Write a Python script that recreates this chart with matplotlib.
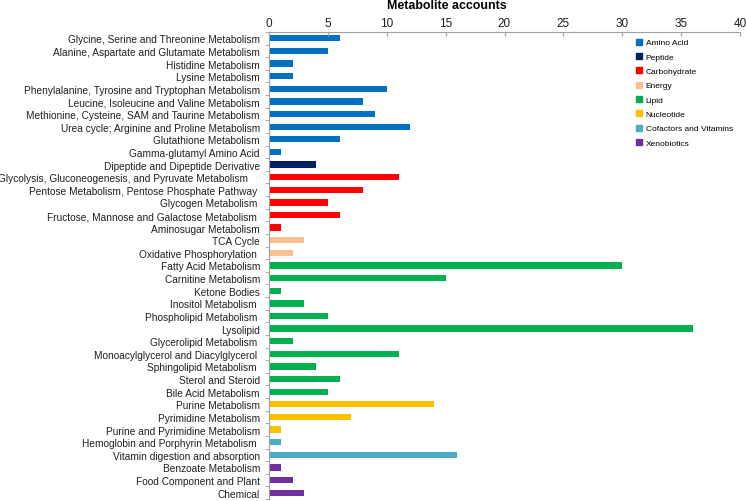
import matplotlib
matplotlib.use("Agg")
import matplotlib.pyplot as plt
from matplotlib.lines import Line2D
import numpy as np

plt.rcParams['font.family'] = ['Liberation Sans', 'DejaVu Sans']

categories = [
    "Glycine, Serine and Threonine Metabolism",
    "Alanine, Aspartate and Glutamate Metabolism",
    "Histidine Metabolism",
    "Lysine Metabolism",
    "Phenylalanine, Tyrosine and Tryptophan Metabolism",
    "Leucine, Isoleucine and Valine Metabolism",
    "Methionine, Cysteine, SAM and Taurine Metabolism",
    "Urea cycle; Arginine and Proline Metabolism",
    "Glutathione Metabolism",
    "Gamma-glutamyl Amino Acid",
    "Dipeptide and Dipeptide Derivative",
    "Glycolysis, Gluconeogenesis, and Pyruvate Metabolism    ",
    "Pentose Metabolism, Pentose Phosphate Pathway ",
    "Glycogen Metabolism ",
    "Fructose, Mannose and Galactose Metabolism ",
    "Aminosugar Metabolism",
    "TCA Cycle",
    "Oxidative Phosphorylation ",
    "Fatty Acid Metabolism",
    "Carnitine Metabolism",
    "Ketone Bodies",
    "Inositol Metabolism ",
    "Phospholipid Metabolism ",
    "Lysolipid",
    "Glycerolipid Metabolism ",
    "Monoacylglycerol and Diacylglycerol ",
    "Sphingolipid Metabolism ",
    "Sterol and Steroid",
    "Bile Acid Metabolism",
    "Purine Metabolism",
    "Pyrimidine Metabolism",
    "Purine and Pyrimidine Metabolism",
    "Hemoglobin and Porphyrin Metabolism ",
    "Vitamin digestion and absorption",
    "Benzoate Metabolism",
    "Food Component and Plant",
    "Chemical",
]
values = [6, 5, 2, 2, 10, 8, 9, 12, 6, 1,
          4,
          11, 8, 5, 6, 1,
          3, 2,
          30, 15, 1, 3, 5, 36, 2, 11, 4, 6, 5,
          14, 7, 1,
          1, 16,
          1, 2, 3]
groups = (["Amino Acid"] * 10 + ["Peptide"] + ["Carbohydrate"] * 5 + ["Energy"] * 2
          + ["Lipid"] * 11 + ["Nucleotide"] * 3 + ["Cofactors and Vitamins"] * 2
          + ["Xenobiotics"] * 3)
group_names = ["Amino Acid", "Peptide", "Carbohydrate", "Energy", "Lipid",
               "Nucleotide", "Cofactors and Vitamins", "Xenobiotics"]
group_colors = ["#0070C0", "#002060", "#FF0000", "#FAC090", "#00B050",
                "#FFC000", "#4BACC6", "#7030A0"]
cmap = dict(zip(group_names, group_colors))
xticks = [0, 5, 10, 15, 20, 25, 30, 35, 40]

fig = plt.figure(figsize=(7.46, 5.02), dpi=100)
ax = fig.add_axes([269/746, 1 - 500/502, (740-269)/746, (500-33)/502])

y = np.arange(len(categories))
ax.barh(y, values, height=0.5, color=[cmap[g] for g in groups])
ax.set_ylim(len(categories) - 0.5, -0.5)
ax.set_xlim(0, 40)
ax.set_yticks(y)
ax.set_yticklabels(categories, fontsize=7.3, color='#202020')
ax.tick_params(axis='y', length=0, pad=6.5)
ax.set_yticks(np.arange(-0.5, len(categories), 1), minor=True)
ax.tick_params(axis='y', which='minor', length=3, color='#A0A0A0')

ax.xaxis.tick_top()
ax.set_xticks(xticks)
ax.set_xticklabels([str(t) for t in xticks], fontsize=8.5, color='#202020')
ax.tick_params(axis='x', length=3, direction='in', color='#A0A0A0', pad=2.5)
for s in ['right', 'bottom']:
    ax.spines[s].set_visible(False)
for s in ['top', 'left']:
    ax.spines[s].set_color('#A0A0A0')
    ax.spines[s].set_linewidth(0.8)

fig.text(447/746, 1 - 6/502, "Metabolite accounts", fontsize=8.9,
         fontweight='bold', ha='center', va='center')

handles = [Line2D([0], [0], marker='s', linestyle='none', markersize=4.2,
                  markerfacecolor=c, markeredgecolor=c) for c in group_colors]
ax.legend(handles, group_names, loc='upper left',
          bbox_to_anchor=(628/746, 1 - 33/502), bbox_transform=fig.transFigure,
          frameon=False, fontsize=6.0, handletextpad=0.3, labelspacing=0.78,
          handlelength=1.0, borderpad=0.3)

fig.savefig("out.png", dpi=100)
